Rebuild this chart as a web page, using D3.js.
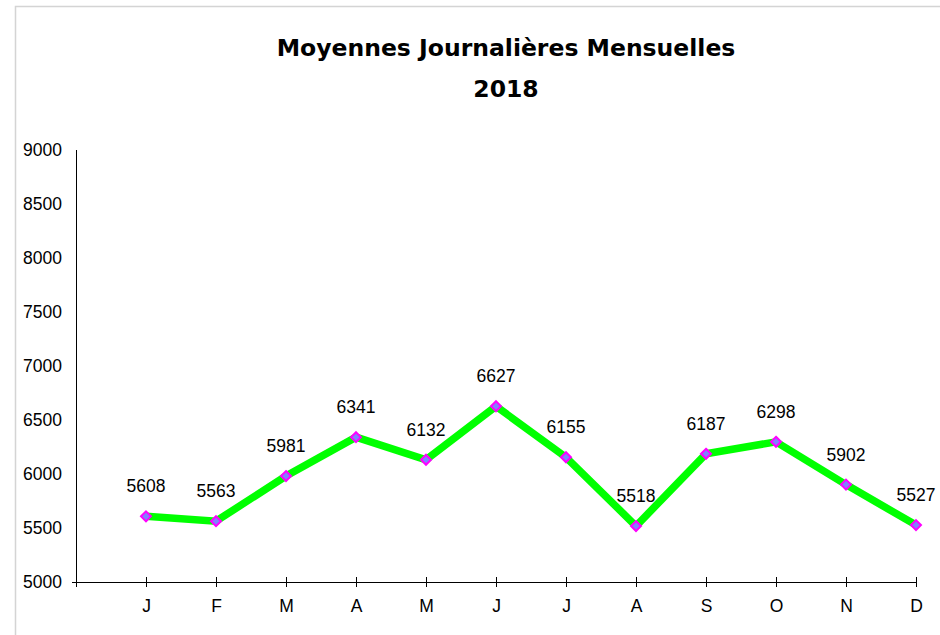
<html>
<head>
<script src="https://d3js.org/d3.v7.min.js"></script>
<style>
body { margin: 0; background: #fff; }
text { font-family: "Liberation Sans", Arial, sans-serif; fill: #000; }
text.title { font-family: "Comic Sans MS", "DejaVu Sans", sans-serif; font-weight: bold; font-size: 23.5px; text-anchor: middle; }
</style>
</head>
<body>
<div id="chart"></div>
<script>
var months = ["J", "F", "M", "A", "M", "J", "J", "A", "S", "O", "N", "D"];
var values = [5608, 5563, 5981, 6341, 6132, 6627, 6155, 5518, 6187, 6298, 5902, 5527];
var yTicks = [5000, 5500, 6000, 6500, 7000, 7500, 8000, 8500, 9000];
var titleLines = ["Moyennes Journalières Mensuelles", "2018"];

var width = 940, height = 635;
var plotLeft = 76, plotRight = 916, plotTop = 150, plotBottom = 582;
var fontSize = "17.5px";

var svg = d3.select("#chart").append("svg")
  .attr("width", width).attr("height", height);

// frame of the chart area
svg.append("rect")
  .attr("x", 15.5).attr("y", 6.5)
  .attr("width", 1000).attr("height", 1000)
  .style("fill", "none").style("stroke", "#d4d4d4").style("stroke-width", 1.5);

svg.selectAll("text.title").data(titleLines).enter()
  .append("text")
  .attr("class", "title")
  .attr("x", 506)
  .attr("y", (d, i) => 56 + i * 41)
  .text(d => d);

var idx = d3.range(months.length);
var step = (plotRight - plotLeft) / months.length;
var xScale = d3.scalePoint().domain(idx).range([plotLeft + step, plotRight]);
var yScale = d3.scaleLinear().domain([5000, 9000]).range([plotBottom, plotTop]);

// y axis
var yAxis = svg.append("g").attr("transform", "translate(" + plotLeft + ",0)")
  .call(d3.axisLeft(yScale).tickValues(yTicks).tickFormat(d3.format("d")).tickSize(4).tickPadding(10));
yAxis.select(".domain").attr("d", "M0.5," + plotTop + "V" + plotBottom);
yAxis.selectAll(".tick line").attr("x1", -4).style("stroke", "#000");
yAxis.selectAll("text").style("font-size", fontSize).style("font-family", "Liberation Sans, Arial, sans-serif");

// x axis
var xAxis = svg.append("g").attr("transform", "translate(0," + plotBottom + ")")
  .call(d3.axisBottom(xScale).tickFormat(i => months[i]).tickSize(5).tickPadding(13));
xAxis.select(".domain").attr("d", "M" + (plotLeft - 4) + ",0.5H" + plotRight);
xAxis.selectAll(".tick line").attr("y1", -5);
xAxis.append("line").attr("x1", plotLeft + 0.5).attr("x2", plotLeft + 0.5)
  .attr("y1", 0).attr("y2", 5).style("stroke", "#000");
xAxis.selectAll("text").style("font-size", fontSize).style("font-family", "Liberation Sans, Arial, sans-serif");

var line = d3.line().x((d, i) => xScale(i)).y(d => yScale(d));

svg.append("path").datum(values)
  .attr("d", line)
  .style("fill", "none").style("stroke", "#00ff00").style("stroke-width", 7.5)
  .style("stroke-linejoin", "miter");

svg.selectAll("path.marker").data(values).enter()
  .append("path")
  .attr("class", "marker")
  .attr("transform", (d, i) => "translate(" + xScale(i) + "," + yScale(d) + ")")
  .attr("d", "M0,-5L5,0L0,5L-5,0Z")
  .style("fill", "#8080ff").style("stroke", "#ff00ff").style("stroke-width", 2);

svg.selectAll("text.value").data(values).enter()
  .append("text")
  .attr("class", "value")
  .attr("x", (d, i) => xScale(i))
  .attr("y", d => yScale(d) - 24)
  .attr("text-anchor", "middle")
  .style("font-size", fontSize)
  .text(d => d);
</script>
</body>
</html>
